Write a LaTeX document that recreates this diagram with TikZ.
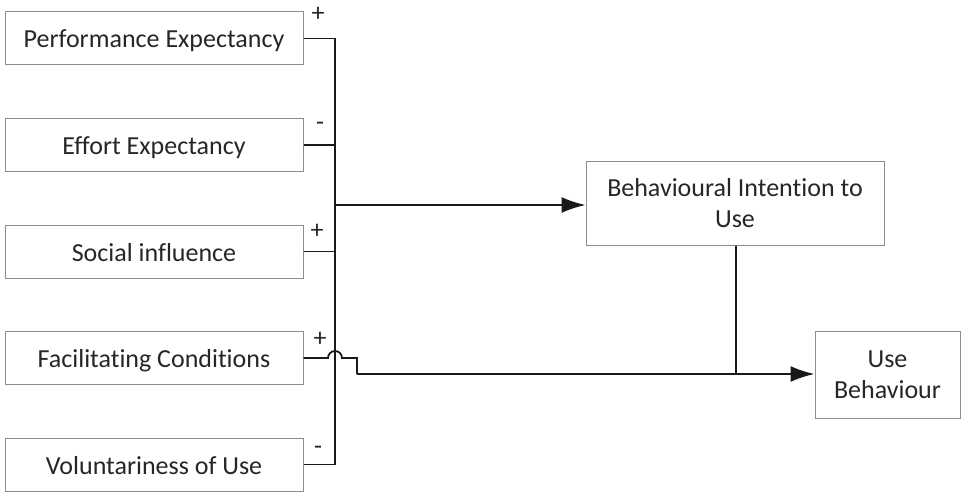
\documentclass[tikz,border=0pt]{standalone}
\usepackage{fontspec}
\setmainfont{Carlito}[Ligatures={NoCommon}]
\usetikzlibrary{arrows.meta}
\begin{document}
\begin{tikzpicture}[x=1pt,y=-1pt,
  box/.style={draw=black!45,line width=1pt,minimum width=298pt,minimum height=53pt,inner sep=0pt,font=\fontsize{26}{31}\selectfont,align=center,text=black!85},
  single/.style={text height=19pt,text depth=0pt},
  conn/.style={line width=1.8pt,black!90},
  arr/.style={conn,-{Latex[length=24pt,width=16pt]}},
  sign/.style={font=\fontsize{26}{30}\selectfont,inner sep=0pt,text=black!85}]
\useasboundingbox (0,0) rectangle (965,492);
\node[box,single] (pe) at (154,38.5) {Performance Expectancy};
\node[box,single] (ee) at (154,145) {Effort Expectancy};
\node[box,single] (si) at (154,251.5) {Social influence};
\node[box,single] (fc) at (154,358) {Facilitating Conditions};
\node[box,single] (vu) at (154,464.5) {Voluntariness of Use};
\node[box,minimum width=298pt,minimum height=84pt] (bi) at (735,203) {Behavioural Intention to\\Use};
\node[box,minimum width=145pt,minimum height=87pt] (ub) at (887.5,374.5) {Use\\Behaviour};
\coordinate (top) at (335,38.5);
\coordinate (bot) at (335,464.5);
\coordinate (mid) at (335,205);
\draw[conn] (pe.east) -- (top) -- (bot) -- (vu.east);
\draw[conn] (ee.east) -- (ee.east -| top);
\draw[conn] (si.east) -- (si.east -| top);
\draw[arr] (mid) -- (mid -| bi.west);
\coordinate (j1) at (328,358);
\coordinate (j2) at (342,358);
\coordinate (s1) at (357,358);
\coordinate (s2) at (357,374);
\draw[conn] (fc.east) -- (j1) arc[start angle=180,end angle=0,radius=7pt] -- (s1) -- (s2);
\draw[arr] (s2) -- (s2 -| ub.west);
\draw[conn] (bi.south -| 736,0) -- (736,374);
\node[sign] (p1) at (318,14) {+};
\node[sign] (m1) at (320,126) {-};
\node[sign] (p2) at (317,231) {+};
\node[sign] (p3) at (320,339) {+};
\node[sign] (m2) at (318,450) {-};
\end{tikzpicture}
\end{document}
